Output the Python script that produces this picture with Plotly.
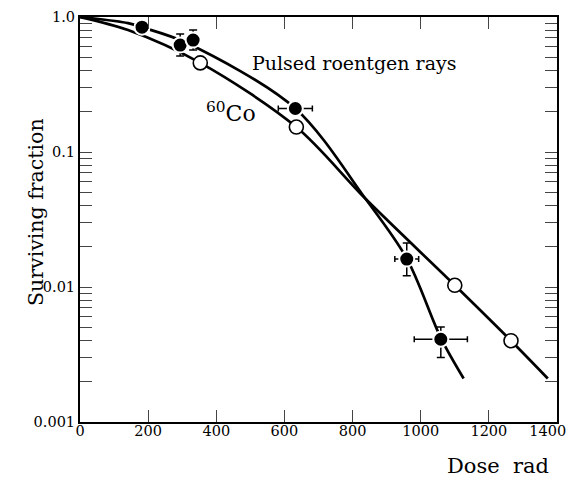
import plotly.graph_objects as go

# Data
pulsed_dose = [182, 294, 332, 632, 959, 1059]
pulsed_sf = [0.84, 0.62, 0.675, 0.21, 0.0161, 0.0041]
pulsed_xerr = [0, 0, 0, 50, 35, 78]
pulsed_yerr_plus = [0, 0.128, 0.125, 0, 0.0051, 0.00096]
pulsed_yerr_minus = [0, 0.106, 0.105, 0, 0.0040, 0.0011]

co_dose = [353, 635, 1100, 1265]
co_sf = [0.457, 0.153, 0.0103, 0.0040]

# Fitted curves
pulsed_curve_dose = [0, 141, 182, 312, 632, 838, 960, 1059, 1126]
pulsed_curve_sf = [1.0, 0.90, 0.84, 0.645, 0.21, 0.045, 0.0161, 0.0042, 0.0021]
co_curve_dose = [0, 141, 353, 635, 838, 1100, 1265, 1373]
co_curve_sf = [1.0, 0.80, 0.457, 0.153, 0.045, 0.0103, 0.0040, 0.0021]

x_ticks = [0, 200, 400, 600, 800, 1000, 1200, 1400]
x_tick_labels = ["0", "200", "400", "600", "800", "1000", "1200", "1400"]
y_decades = [0.001, 0.01, 0.1, 1.0]
y_decade_labels = ["0.001", "0.01", "0.1", "1.0"]

yvals, ytext = [], []
for d, lab in zip(y_decades[:-1], y_decade_labels[:-1]):
    for m in range(1, 10):
        yvals.append(round(d * m, 6))
        ytext.append(lab if m == 1 else "")
yvals.append(1.0)
ytext.append("1.0")

# last x label sits slightly left of its tick, as in the reference
x_text = x_tick_labels[:-1] + [x_tick_labels[-1] + "&nbsp;" * 4]

serif = "DejaVu Serif"
W, H = 568, 477
L, R, T, B = 80, 11, 17, 55
pw, ph = W - L - R, H - T - B


def px(xp):
    return (xp - L) / pw


def py(yp):
    return (H - B - yp) / ph


fig = go.Figure()

fig.add_trace(go.Scatter(x=co_curve_dose, y=co_curve_sf, mode="lines",
                         line=dict(color="black", width=2.7, shape="spline", smoothing=0.9),
                         hoverinfo="skip", showlegend=False))
fig.add_trace(go.Scatter(x=pulsed_curve_dose, y=pulsed_curve_sf, mode="lines",
                         line=dict(color="black", width=2.7, shape="spline", smoothing=0.9),
                         hoverinfo="skip", showlegend=False))

fig.add_trace(go.Scatter(x=co_dose, y=co_sf, mode="markers",
                         marker=dict(size=14, color="white", line=dict(color="black", width=1.6)),
                         showlegend=False))
fig.add_trace(go.Scatter(x=pulsed_dose, y=pulsed_sf, mode="markers",
                         marker=dict(size=15, color="black", line=dict(color="white", width=2)),
                         error_x=dict(type="data", array=pulsed_xerr, color="black", thickness=1.5, width=3),
                         error_y=dict(type="data", array=pulsed_yerr_plus, arrayminus=pulsed_yerr_minus,
                                      color="black", thickness=1.5, width=4),
                         showlegend=False))

fig.update_layout(
    width=W, height=H,
    margin=dict(l=L, r=R, t=T, b=B, autoexpand=False),
    paper_bgcolor="white", plot_bgcolor="white",
    font=dict(family=serif, color="black", size=14.5),
    xaxis=dict(range=[0, 1400], tickvals=x_ticks, ticktext=x_text, ticks="inside", ticklen=12,
               tickwidth=1.3, showline=True, linecolor="black", linewidth=2, mirror="ticks",
               automargin=False, ticklabeloverflow="allow", ticklabelstandoff=-5,
               showgrid=False, zeroline=False, tickfont=dict(size=14.5, family=serif)),
    yaxis=dict(type="log", range=[-3, 0], tickvals=yvals, ticktext=ytext, ticks="inside",
               ticklen=12, tickwidth=1.3, showline=True, linecolor="black", linewidth=2,
               mirror="ticks", showgrid=False, zeroline=False, automargin=False,
               ticklabeloverflow="allow",
               tickfont=dict(size=14.5, family=serif)),
    annotations=[
        dict(text="Pulsed roentgen rays", x=1400 * px(354), y=-0.34, xref="x", yref="y",
             xanchor="center", yanchor="middle",
             showarrow=False, font=dict(size=19, family=serif)),
        dict(text="<sup>60</sup>Co", x=1400 * px(231), y=-0.70, xref="x", yref="y",
             xanchor="center", yanchor="middle",
             showarrow=False, font=dict(size=22, family=serif)),
        dict(text="Surviving fraction", x=px(36), y=py(212), xref="paper", yref="paper",
             xanchor="center", yanchor="middle",
             showarrow=False, textangle=-90, font=dict(size=20.5, family=serif)),
        dict(text="Dose&nbsp;&nbsp;rad", x=px(498), y=py(466), xref="paper", yref="paper",
             showarrow=False, xanchor="center", yanchor="middle",
             font=dict(size=21, family=serif)),
    ],
)

fig.write_html("out.html", config={"displayModeBar": False},
               post_script="document.body.style.margin='0';document.body.style.padding='0';")
